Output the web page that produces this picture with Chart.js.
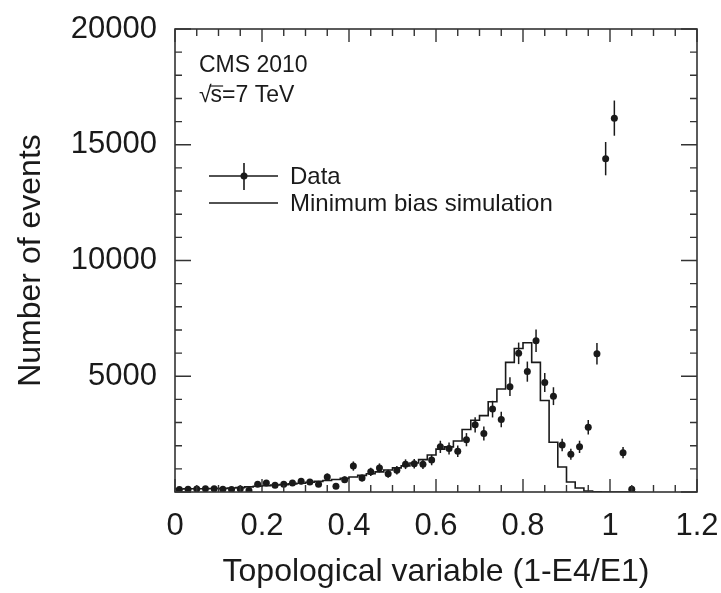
<!DOCTYPE html>
<html>
<head>
<meta charset="utf-8">
<script src="https://cdn.jsdelivr.net/npm/chart.js@4.4.1/dist/chart.umd.min.js"></script>
<style>
  html, body { margin: 0; padding: 0; background: #fff; }
  #wrap { width: 721px; height: 593px; }
</style>
</head>
<body>
<div id="wrap"><canvas id="chart" width="721" height="593"></canvas></div>
<script>
// bin centres of the 0.02 wide bins
const binCenters = [
  0.01, 0.03, 0.05, 0.07, 0.09, 0.11, 0.13, 0.15, 0.17, 0.19,
  0.21, 0.23, 0.25, 0.27, 0.29, 0.31, 0.33, 0.35, 0.37, 0.39,
  0.41, 0.43, 0.45, 0.47, 0.49, 0.51, 0.53, 0.55, 0.57, 0.59,
  0.61, 0.63, 0.65, 0.67, 0.69, 0.71, 0.73, 0.75, 0.77, 0.79,
  0.81, 0.83, 0.85, 0.87, 0.89, 0.91, 0.93, 0.95, 0.97, 0.99,
  1.01, 1.03, 1.05
];
const binWidth = 0.02;

const dataCounts = [
  110, 120, 130, 140, 140, 120, 110, 130, 60, 330,
  390, 290, 330, 390, 460, 430, 330, 650, 250, 530,
  1120, 600, 870, 1040, 790, 940, 1200, 1220, 1200, 1380,
  1950, 1880, 1760, 2260, 2900, 2530, 3580, 3130, 4550, 5990,
  5200, 6530, 4730, 4140, 2030, 1630, 1950, 2800, 5970, 14400,
  16150, 1700, 120
];

const dataErrors = [
  60, 65, 70, 70, 70, 65, 60, 70, 45, 110,
  120, 100, 110, 120, 130, 125, 110, 150, 95, 140,
  200, 145, 175, 195, 170, 185, 210, 210, 210, 225,
  265, 260, 250, 285, 325, 300, 360, 335, 405, 465,
  435, 485, 415, 385, 270, 240, 265, 315, 465, 720,
  760, 245, 65
];

const simCounts = [
  130, 130, 140, 140, 140, 150, 150, 170, 190, 220,
  250, 270, 300, 320, 350, 380, 420, 460, 500, 540,
  590, 650, 720, 790, 870, 950, 1040, 1130, 1250, 1400,
  1600, 1850, 1950, 2200, 2700, 3100, 3300, 3900, 4450, 5600,
  6200, 6450, 5600, 3950, 2150, 1080, 430, 170, 40, 10,
  0, 0, 0
];

const xTickValues = [0, 0.2, 0.4, 0.6, 0.8, 1, 1.2];
const yTickValues = [5000, 10000, 15000, 20000];

const FONT = "'Liberation Sans', Arial, Helvetica, sans-serif";
const INK = '#1a1a1a';

const dataPoints = binCenters.map((c, i) => ({ x: c, y: dataCounts[i] }));
const simPoints = binCenters.map((c, i) => ({ x: c - binWidth / 2, y: simCounts[i] }));
simPoints.push({ x: binCenters[binCenters.length - 1] + binWidth / 2, y: 0 });

// frame, inward ticks, error bars, legend and labels
const decor = {
  id: 'decor',
  afterDatasetsDraw(chart) {
    const ctx = chart.ctx;
    const xs = chart.scales.x, ys = chart.scales.y;
    const a = chart.chartArea;

    ctx.save();
    ctx.strokeStyle = INK;
    ctx.lineWidth = 1.5;
    dataPoints.forEach((p, i) => {
      const px = xs.getPixelForValue(p.x);
      ctx.beginPath();
      ctx.moveTo(px, ys.getPixelForValue(p.y - dataErrors[i]));
      ctx.lineTo(px, ys.getPixelForValue(p.y + dataErrors[i]));
      ctx.stroke();
    });

    // frame
    ctx.lineWidth = 1.6;
    ctx.strokeStyle = '#333';
    ctx.strokeRect(a.left, a.top, a.right - a.left, a.bottom - a.top);

    // ticks on all four sides
    ctx.lineWidth = 1.4;
    for (let k = 0; k <= 24; k++) {
      const v = k * 0.05;
      const px = xs.getPixelForValue(v);
      const len = k % 4 === 0 ? 13 : 7;
      ctx.beginPath();
      ctx.moveTo(px, a.bottom); ctx.lineTo(px, a.bottom - len);
      ctx.moveTo(px, a.top); ctx.lineTo(px, a.top + len);
      ctx.stroke();
    }
    for (let k = 0; k <= 20; k++) {
      const py = ys.getPixelForValue(k * 1000);
      const len = k % 5 === 0 ? 16 : 7;
      ctx.beginPath();
      ctx.moveTo(a.left, py); ctx.lineTo(a.left + len, py);
      ctx.moveTo(a.right, py); ctx.lineTo(a.right - len, py);
      ctx.stroke();
    }

    // legend
    ctx.strokeStyle = INK;
    ctx.fillStyle = INK;
    ctx.lineWidth = 1.6;
    ctx.beginPath();
    ctx.moveTo(209, 176); ctx.lineTo(278, 176);
    ctx.moveTo(244, 163); ctx.lineTo(244, 190);
    ctx.moveTo(209, 203); ctx.lineTo(278, 203);
    ctx.stroke();
    ctx.beginPath();
    ctx.arc(244, 176, 3.5, 0, Math.PI * 2);
    ctx.fill();

    ctx.font = '24px ' + FONT;
    ctx.textBaseline = 'middle';
    ctx.textAlign = 'left';
    ctx.fillText('Data', 290, 177);
    ctx.fillText('Minimum bias simulation', 290, 204);

    // experiment label
    ctx.font = '23px ' + FONT;
    ctx.fillText('CMS 2010', 199, 66);
    const sx = 199, sy = 96;
    ctx.fillText('\u221A', sx, sy);
    const rw = ctx.measureText('\u221A').width;
    ctx.fillText('s=7 TeV', sx + rw - 1, sy);
    const sw = ctx.measureText('s').width;
    ctx.lineWidth = 1.2;
    ctx.beginPath();
    ctx.moveTo(sx + rw - 2, sy - 10);
    ctx.lineTo(sx + rw + sw, sy - 10);
    ctx.stroke();
    ctx.restore();
  }
};

new Chart(document.getElementById('chart'), {
  data: {
    datasets: [
      {
        type: 'line',
        label: 'Minimum bias simulation',
        data: simPoints,
        stepped: 'after',
        borderColor: INK,
        borderWidth: 1.6,
        pointRadius: 0,
        fill: false
      },
      {
        type: 'scatter',
        label: 'Data',
        data: dataPoints,
        pointRadius: 3.5,
        pointBackgroundColor: INK,
        pointBorderColor: INK,
        pointBorderWidth: 0
      }
    ]
  },
  options: {
    responsive: false,
    animation: false,
    devicePixelRatio: 1,
    layout: { padding: { left: 0, right: 24, top: 29, bottom: 0 } },
    plugins: { legend: { display: false }, tooltip: { enabled: false } },
    scales: {
      x: {
        type: 'linear',
        min: 0, max: 1.2,
        afterBuildTicks: s => { s.ticks = xTickValues.map(v => ({ value: v })); },
        afterFit: s => { s.height = 101; s.paddingLeft = 0; s.paddingRight = 0; },
        grid: { display: false, drawTicks: false },
        border: { display: false },
        ticks: {
          padding: 16,
          color: INK,
          font: { family: FONT, size: 31 },
          maxRotation: 0,
          callback: v => String(v)
        },
        title: {
          display: true,
          text: 'Topological variable (1-E4/E1)',
          color: INK,
          font: { family: FONT, size: 32 },
          padding: { top: 0, bottom: 2 }
        }
      },
      y: {
        type: 'linear',
        min: 0, max: 20000,
        afterBuildTicks: s => { s.ticks = yTickValues.map(v => ({ value: v })); },
        afterFit: s => { s.width = 175; s.paddingTop = 0; s.paddingBottom = 0; },
        grid: { display: false, drawTicks: false },
        border: { display: false },
        ticks: {
          padding: 18,
          color: INK,
          font: { family: FONT, size: 31 },
          callback: v => String(v)
        },
        title: {
          display: true,
          text: 'Number of events',
          color: INK,
          font: { family: FONT, size: 32 },
          padding: { top: 12, bottom: 0 }
        }
      }
    }
  },
  plugins: [decor]
});
</script>
</body>
</html>
